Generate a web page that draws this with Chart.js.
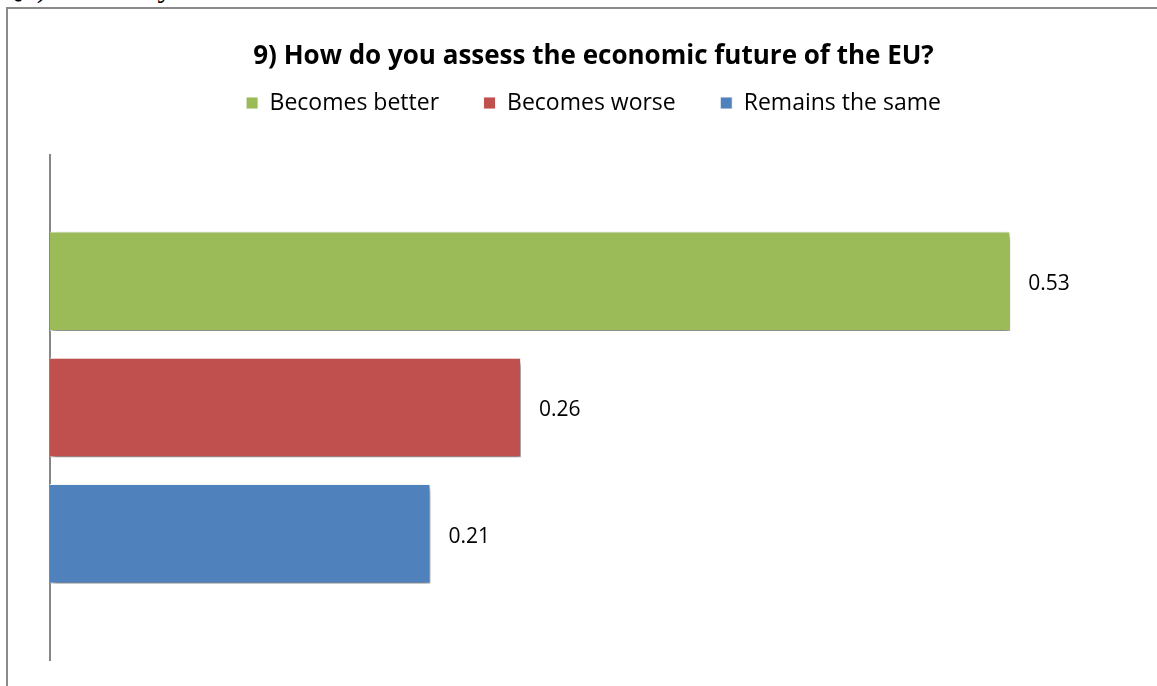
<!DOCTYPE html>
<html>
<head>
<meta charset="utf-8">
<title>9) How do you assess the economic future of the EU?</title>
<script src="https://cdn.jsdelivr.net/npm/chart.js@4.4.1/dist/chart.umd.min.js"></script>
<style>
  html, body { margin: 0; padding: 0; background: #fff; overflow: hidden; }
  body { width: 1157px; height: 686px; position: relative; }
  #question {
    position: absolute; left: 0; top: -28px; white-space: nowrap;
    font-family: "Liberation Serif", serif; font-size: 30px; line-height: 30px; color: #000;
  }
  #frame {
    position: absolute; left: 6px; top: 7px; width: 1170px; height: 700px;
    border: 2px solid #8a8a8a; box-sizing: border-box;
  }
  #wrap { position: absolute; left: 0; top: 0; width: 1157px; height: 686px; }
</style>
</head>
<body>
<div id="question">Q9) How do you assess the economic future of the EU?</div>
<div id="frame"></div>
<div id="wrap"><canvas id="futureChart"></canvas></div>
<script>
// values
const categories = [''];
const seriesNames = ['Becomes better', 'Becomes worse', 'Remains the same'];
const seriesValues = [0.53, 0.26, 0.21];
const seriesColors = ['#9bbb59', '#c0504d', '#4f81bd'];
const xMax = 0.6;

const FONT = '"Open Sans", "Noto Sans", sans-serif';

// soft drop shadow under the bars, like the office chart
const barShadow = {
  id: 'barShadow',
  beforeDatasetsDraw(chart) {
    const ctx = chart.ctx;
    ctx.save();
    ctx.shadowColor = 'rgba(0, 0, 0, 0.5)';
    ctx.shadowBlur = 6;
    ctx.shadowOffsetX = 2;
    ctx.shadowOffsetY = 4;
  },
  afterDatasetsDraw(chart) {
    chart.ctx.restore();
  }
};

// value labels to the right of each bar
const valueLabels = {
  id: 'valueLabels',
  afterDraw(chart) {
    const ctx = chart.ctx;
    ctx.save();
    ctx.font = '21px ' + FONT;
    ctx.fillStyle = '#000';
    ctx.textAlign = 'left';
    ctx.textBaseline = 'middle';
    chart.data.datasets.forEach((ds, i) => {
      chart.getDatasetMeta(i).data.forEach((bar, j) => {
        ctx.fillText(ds.data[j].toFixed(2), bar.x + 18, bar.y + 3);
      });
    });
    ctx.restore();
  }
};

// extra room between the legend and the plot
const legendSpacer = {
  id: 'legendSpacer',
  beforeInit(chart) {
    const fit = chart.legend.fit;
    chart.legend.fit = function() {
      fit.bind(chart.legend)();
      this.height += 30.5;
    };
  }
};

document.addEventListener('DOMContentLoaded', function() {
  const ctx = document.getElementById('futureChart');

  new Chart(ctx.getContext('2d'), {
    type: 'bar',
    data: {
      labels: categories,
      datasets: seriesNames.map((name, i) => ({
        label: name,
        data: [seriesValues[i]],
        backgroundColor: seriesColors[i],
        borderColor: 'rgba(255, 255, 255, 0.9)',
        borderWidth: 1,
        categoryPercentage: 0.75,
        barPercentage: 0.79
      }))
    },
    options: {
      indexAxis: 'y',
      responsive: true,
      maintainAspectRatio: false,
      animation: false,
      layout: {
        padding: { top: 30, left: 50, right: 20, bottom: 26 }
      },
      scales: {
        x: {
          display: false,
          min: 0,
          max: xMax
        },
        y: {
          grid: { display: false },
          ticks: { display: false },
          border: { display: true, color: '#868686', width: 2 },
          afterFit(scale) { scale.width = 0; }
        }
      },
      plugins: {
        title: {
          display: true,
          text: '9) How do you assess the economic future of the EU?',
          color: '#000',
          font: { family: FONT, size: 26, weight: 'bold' },
          padding: { top: 11.4, bottom: -25.6 }
        },
        legend: {
          position: 'top',
          labels: {
            color: '#000',
            boxWidth: 12,
            boxHeight: 12,
            padding: 44.5,
            font: { family: FONT, size: 23 }
          }
        },
        tooltip: { enabled: false }
      }
    },
    plugins: [barShadow, valueLabels, legendSpacer]
  });
});
</script>
</body>
</html>
